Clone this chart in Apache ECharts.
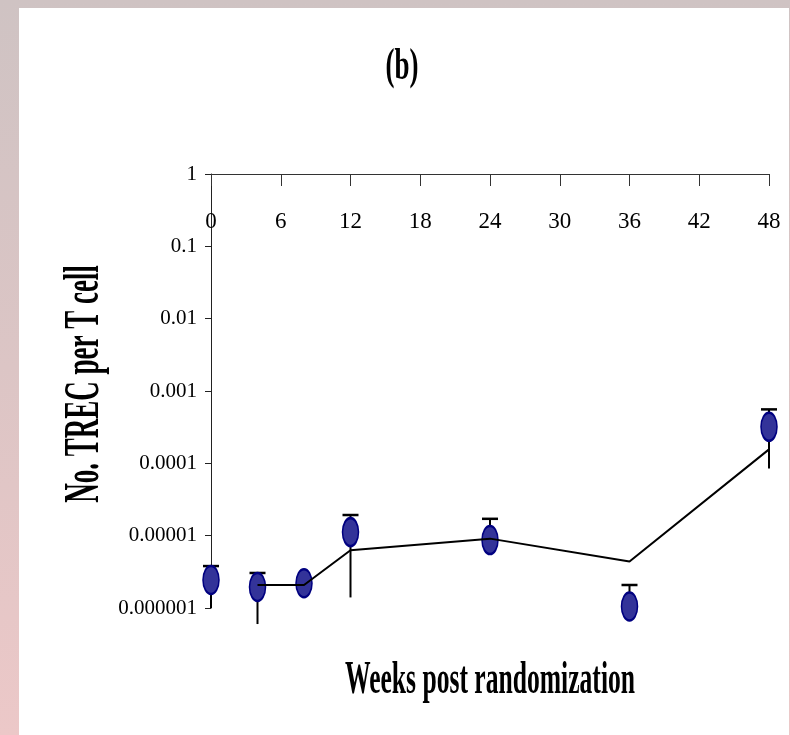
<!DOCTYPE html>
<html><head><meta charset="utf-8">
<script src="https://cdn.jsdelivr.net/npm/echarts@6/dist/echarts.min.js"></script>
<style>
html,body{margin:0;padding:0;background:#fff;}
#frame{position:relative;width:790px;height:735px;background:linear-gradient(to bottom,#cfc3c3 0%,#dcc5c5 50%,#ecc8c8 100%);overflow:hidden;}
#panel{position:absolute;left:19px;top:8px;width:770px;height:727px;background:#fff;}
#chart{position:absolute;left:0;top:0;width:790px;height:735px;}
</style></head><body>
<div id="frame"><div id="panel"></div><div id="chart"></div></div>
<script>
// ---- data ----
const weeks        = [0, 4, 8, 12, 24, 36, 48];
const markerValues = [2.44e-6, 1.95e-6, 2.2e-6, 1.12e-5, 8.7e-6, 1.05e-6, 3.2e-4];
const errUpper     = [3.8e-6, 3.05e-6, null, 1.93e-5, 1.71e-5, 2.08e-6, 5.57e-4];
const errLower     = [1.0e-6, 6.0e-7, null, 1.4e-6, 8.7e-6, 1.05e-6, 8.5e-5];
const lineWeeks    = [4, 8, 12, 24, 36, 48];
const lineValues   = [2.08e-6, 2.08e-6, 6.3e-6, 9.1e-6, 4.4e-6, 1.56e-4];
const xTicks       = [0, 6, 12, 18, 24, 30, 36, 42, 48];
const yTickLabels  = ['1', '0.1', '0.01', '0.001', '0.0001', '0.00001', '0.000001'];
const titleText    = '(b)';
const xName        = 'Weeks post randomization';
const yName        = 'No. TREC per T cell';

const FONT = '"Liberation Serif", "Times New Roman", serif';
const chart = echarts.init(document.getElementById('chart'), null, {renderer: 'canvas'});

const errData = [];
weeks.forEach((w, i) => { if (errUpper[i] != null) errData.push([w, errLower[i], errUpper[i]]); });

const option = {
  backgroundColor: 'transparent',
  animation: false,
  grid: {left: 211, right: 21, top: 174, bottom: 127, containLabel: false},
  xAxis: {
    type: 'value', position: 'top', min: 0, max: 48, interval: 6,
    axisLine: {show: true, lineStyle: {color: '#333', width: 1}},
    axisTick: {show: true, inside: true, length: 12, lineStyle: {color: '#333', width: 1}},
    axisLabel: {inside: true, margin: 36, fontFamily: FONT, fontSize: 23, color: '#000',
      formatter: v => xTicks.indexOf(v) >= 0 ? String(v) : ''},
    splitLine: {show: false}
  },
  yAxis: {
    type: 'log', logBase: 10, min: 1e-6, max: 1,
    axisLine: {show: true, lineStyle: {color: '#222', width: 1}},
    axisTick: {show: true, inside: false, length: 6, lineStyle: {color: '#222', width: 1}},
    axisLabel: {margin: 14, fontFamily: FONT, fontSize: 21, color: '#000',
      formatter: v => { const k = Math.round(-Math.log10(v)); return yTickLabels[k] || ''; }},
    splitLine: {show: false}, minorTick: {show: false}
  },
  graphic: [
    {type: 'text', x: 402, y: 68, scaleY: 1.65, z: 10,
      style: {text: titleText, fontFamily: FONT, fontWeight: 'bold', fontSize: 27, fill: '#000', align: 'center', verticalAlign: 'middle'}},
    {type: 'text', x: 490, y: 681, scaleY: 1.85, z: 10,
      style: {text: xName, fontFamily: FONT, fontWeight: 'bold', fontSize: 25.6, fill: '#000', align: 'center', verticalAlign: 'middle'}},
    {type: 'text', x: 85, y: 384, rotation: Math.PI / 2, scaleY: 1.85, z: 10,
      style: {text: yName, fontFamily: FONT, fontWeight: 'bold', fontSize: 27, fill: '#000', align: 'center', verticalAlign: 'middle'}}
  ],
  series: [
    {
      type: 'custom', z: 1, clip: false,
      encode: {x: 0, y: [1, 2]},
      data: errData,
      renderItem: (params, api) => {
        const x = api.value(0), lo = api.value(1), hi = api.value(2);
        const pLo = api.coord([x, lo]);
        const pHi = api.coord([x, hi]);
        return {type: 'group', children: [
          {type: 'line', shape: {x1: pLo[0], y1: pLo[1], x2: pHi[0], y2: pHi[1]}, style: {stroke: '#000', lineWidth: 2}},
          {type: 'line', shape: {x1: pHi[0] - 8, y1: pHi[1], x2: pHi[0] + 8, y2: pHi[1]}, style: {stroke: '#000', lineWidth: 2.5}}
        ]};
      }
    },
    {
      type: 'scatter', z: 2,
      symbol: 'path://M8,0A8,14,0,1,1,8,28A8,14,0,1,1,8,0Z',
      symbolSize: [16, 28],
      itemStyle: {color: '#333399', borderColor: '#000080', borderWidth: 2, opacity: 1},
      emphasis: {disabled: true},
      data: weeks.map((w, i) => [w, markerValues[i]])
    },
    {
      type: 'line', z: 3, symbol: 'none',
      lineStyle: {color: '#000', width: 2},
      data: lineWeeks.map((w, i) => [w, lineValues[i]])
    }
  ]
};
chart.setOption(option);
</script>
</body></html>
